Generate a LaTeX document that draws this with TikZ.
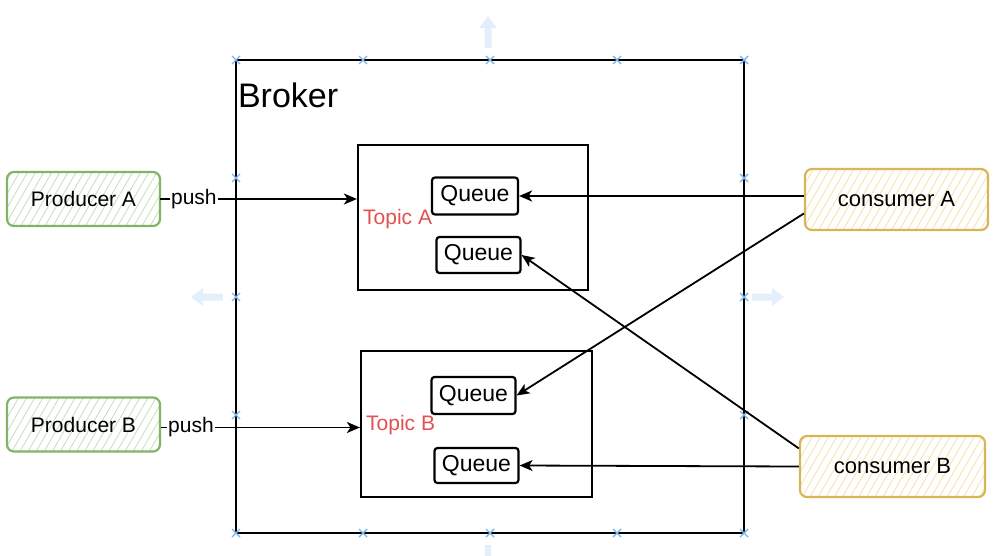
\documentclass[tikz,border=0pt]{standalone}
\usepackage{fontspec}
\setmainfont{Liberation Sans}
\usetikzlibrary{arrows.meta, positioning, patterns.meta}

\definecolor{prodgreen}{HTML}{82B366}
\definecolor{prodhatch}{HTML}{C9E0BF}
\definecolor{consyellow}{HTML}{D6B656}
\definecolor{conshatch}{HTML}{F7E3AE}
\definecolor{topicred}{HTML}{E25050}
\definecolor{selblue}{HTML}{7EB4EA}
\definecolor{hintblue}{HTML}{E3EFFB}

\tikzset{
  actor/.style={rounded corners=7pt, line width=2.2pt, minimum width=153pt, minimum height=54pt, font=\fontsize{21}{24}\selectfont},
  producer/.style={actor, draw=prodgreen, pattern={Lines[angle=60,distance=7pt,line width=0.9pt]}, pattern color=prodhatch},
  consumer/.style={actor, draw=consyellow, minimum width=183pt, minimum height=61pt, font=\fontsize{22}{25}\selectfont, pattern={Lines[angle=60,distance=7pt,line width=0.9pt]}, pattern color=conshatch},
  topicbox/.style={draw, line width=2.2pt, minimum width=230pt, minimum height=145pt},
  queue/.style={draw, line width=2.2pt, rounded corners=3pt, minimum width=84pt, minimum height=36pt, font=\fontsize{23}{26}\selectfont},
  topiclabel/.style={anchor=west, inner sep=1pt, text=topicred, font=\fontsize{21}{24}\selectfont},
  pushlabel/.style={fill=white, inner sep=1pt, font=\fontsize{21}{24}\selectfont},
  arr/.style={line width=1.8pt, -{Stealth[length=13pt,width=11pt,inset=3.5pt]}},
  hint/.style={fill=hintblue, draw=none}
}

\begin{document}
\begin{tikzpicture}[x=1pt, y=-1pt]
\useasboundingbox (0,0) rectangle (1000,556);

% broker
\node[draw, line width=2.4pt, minimum width=508pt, minimum height=473pt] (broker) at (490,296.5) {};
\node[below right=24pt and 3pt of broker.north west, anchor=north west, inner sep=0pt, font=\fontsize{34}{38}\selectfont] (brokerlabel) {Broker};

% selection marks
\foreach \x in {236,363,490,617,744}
  \foreach \y in {60,533}
    \draw[selblue, line width=1.4pt] (\x-4,\y-4) -- (\x+4,\y+4) (\x-4,\y+4) -- (\x+4,\y-4);
\foreach \x in {236,744}
  \foreach \y in {178,297,415}
    \draw[selblue, line width=1.4pt] (\x-4,\y-4) -- (\x+4,\y+4) (\x-4,\y+4) -- (\x+4,\y-4);

% hint arrows
\foreach \x/\y/\r in {488/48/0, 223/297/90, 752/297/-90}
  \fill[hint, shift={(\x,\y)}, rotate=\r] (-3.5,0) -- (-3.5,-20) -- (-9,-20) -- (0,-32) -- (9,-20) -- (3.5,-20) -- (3.5,0) -- cycle;
\fill[hint] (485,545) rectangle (491,556);

% topics
\node[topicbox] (ta) at (473,217.5) {};
\node[topicbox, minimum width=231pt, minimum height=146pt] (tb) at (476.5,424) {};
\node[topiclabel] (talabel) at (362,219) {Topic A};
\node[topiclabel] (tblabel) at (365,425) {Topic B};

% queues
\node[queue, minimum width=86pt, minimum height=37pt] (qa1) at (475,196) {Queue};
\node[queue] (qa2) at (478.5,255) {Queue};
\node[queue, minimum height=37pt] (qb1) at (473.5,395.5) {Queue};
\node[queue, minimum height=35pt] (qb2) at (476.5,465.5) {Queue};

% producers and consumers
\node[producer] (pa) at (83.5,199) {Producer A};
\node[producer] (pb) at (83.5,424.5) {Producer B};
\node[consumer] (ca) at (896.5,199.5) {consumer A};
\node[consumer, minimum width=185pt] (cb) at (892.5,466.5) {consumer B};

% push
\draw[arr] (pa.east) -- node[pushlabel, pos=0.17] {push} (pa.east -| ta.west);
\draw[arr] ([yshift=-3pt]pb.east) -- node[pushlabel, pos=0.15] {push} ([yshift=-3pt]pb.east -| tb.west);

% consume
\draw[arr] (ca.west |- qa1.east) -- (qa1.east);
\draw[arr] ([yshift=-14pt]ca.west) -- (qb1.east);
\draw[arr] ([yshift=18pt]cb.west) -- (qa2.east);
\draw[arr] (cb.west) -- (qb2.east);
\end{tikzpicture}
\end{document}
